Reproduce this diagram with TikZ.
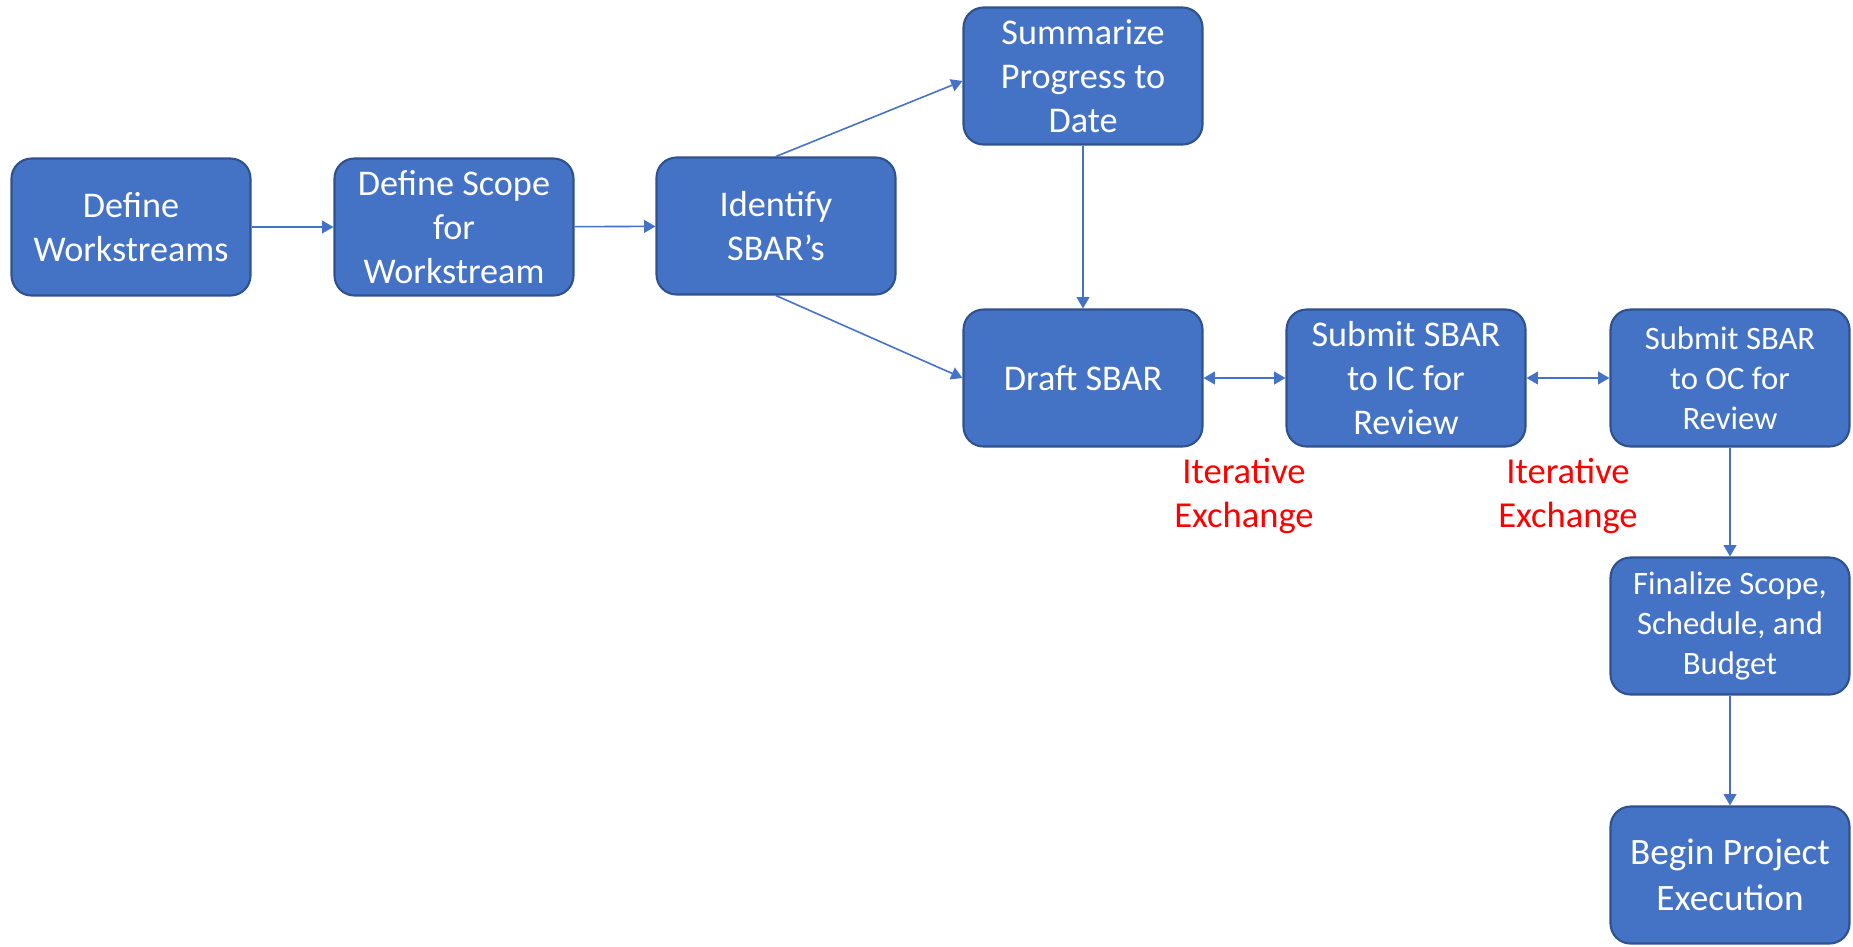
\documentclass[tikz,border=0pt]{standalone}
\usepackage{fontspec}
\setmainfont{Carlito}
\usetikzlibrary{arrows.meta}

\definecolor{boxblue}{HTML}{4472C4}
\definecolor{edgeblue}{HTML}{2F528F}

\begin{document}
\begin{tikzpicture}[
        box/.style={draw=edgeblue, line width=0.6pt, fill=boxblue, rounded corners=0.2cm,
            minimum width=2.39cm, minimum height=1.37cm, inner sep=1pt, align=center,
            text=white, font=\fontsize{10.3}{12.5}\selectfont},
        smallbox/.style={box, font=\fontsize{9.3}{11.4}\selectfont},
        link/.style={draw=boxblue, line width=0.45pt, >={Triangle[length=3.2pt, width=3.6pt]}},
        note/.style={text=red, align=center, font=\fontsize{10.4}{12.7}\selectfont}
    ]
        \useasboundingbox (0,0) rectangle (18.53,-9.46);

        % Steps, placed at their centres
        \node[box] (define) at (1.31,-2.27) {Define\\Workstreams};
        \node[box] (scope) at (4.54,-2.27) {Define Scope\\for\\Workstream};
        \node[box] (ident) at (7.76,-2.26) {Identify\\SBAR’s};
        \node[box] (summ) at (10.83,-0.76) {Summarize\\Progress to\\Date};
        \node[box] (draft) at (10.83,-3.78) {Draft SBAR};
        \node[box] (ic) at (14.06,-3.78) {Submit SBAR\\to IC for\\Review};
        \node[smallbox] (oc) at (17.30,-3.78) {Submit SBAR\\to OC for\\Review};
        \node[smallbox] (final) at (17.30,-6.26) {Finalize Scope,\\Schedule, and\\Budget};
        \node[box, font=\fontsize{10.6}{13.2}\selectfont] (begin) at (17.30,-8.75) {Begin Project\\Execution};

        % Red notes under the exchanges
        \node[note] (note1) at (12.44,-4.96) {Iterative\\Exchange};
        \node[note] (note2) at (15.68,-4.96) {Iterative\\Exchange};

        % Connectors
        \draw[link, ->] (define) -- (scope);
        \draw[link, ->] (scope) -- (ident);
        \draw[link, ->] (ident.north) -- ([yshift=-0.05cm]summ.west);
        \draw[link, ->] (ident.south) -- (draft.west);
        \draw[link, ->] (summ) -- (draft);
        \draw[link, <->] (draft) -- (ic); % two-way
        \draw[link, <->] (ic) -- (oc); % two-way
        \draw[link, ->] (oc) -- (final);
        \draw[link, ->] (final) -- (begin);

\end{tikzpicture}
\end{document}
